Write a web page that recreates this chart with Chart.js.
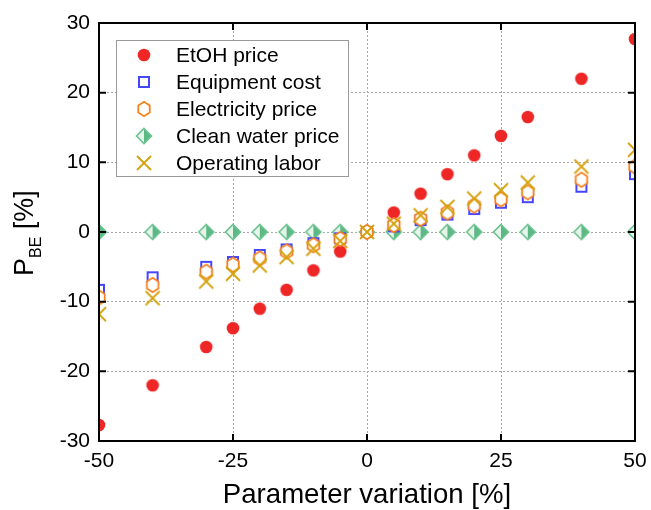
<!DOCTYPE html>
<html>
<head>
<meta charset="utf-8">
<title>Break-even price sensitivity</title>
<script src="https://cdn.jsdelivr.net/npm/chart.js@4.4.0/dist/chart.umd.min.js"></script>
<style>
    html, body { margin: 0; padding: 0; background: #fff; }
    #chart { display: block; }
</style>
</head>
<body>
<canvas id="chart" width="651" height="510"></canvas>
<script>
// parameter variation [%] and resulting change of the break-even price [%]
const variation = [-50, -40, -30, -25, -20, -15, -10, -5, 0, 5, 10, 15, 20, 25, 30, 40, 50];
const etohPrice = [-27.7, -22.0, -16.5, -13.8, -11.0, -8.3, -5.5, -2.8, 0, 2.8, 5.5, 8.3, 11.0, 13.8, 16.5, 22.0, 27.7];
const equipmentCost = [-8.3, -6.5, -5.0, -4.3, -3.3, -2.5, -1.6, -0.9, 0, 0.8, 1.7, 2.5, 3.3, 4.2, 5.0, 6.5, 8.3];
const electricityPrice = [-9.4, -7.6, -5.7, -4.7, -3.8, -2.8, -1.9, -1.0, 0, 1.0, 1.9, 2.8, 3.8, 4.7, 5.7, 7.5, 9.4];
const cleanWaterPrice = [0, 0, 0, 0, 0, 0, 0, 0, 0, 0, 0, 0, 0, 0, 0, 0, 0];
const operatingLabor = [-11.8, -9.5, -7.1, -6.0, -4.8, -3.6, -2.4, -1.3, 0, 1.2, 2.4, 3.6, 4.8, 6.0, 7.1, 9.4, 11.8];

const xTicks = [-50, -25, 0, 25, 50];
const yTicks = [-30, -20, -10, 0, 10, 20, 30];

const FONT = 'Liberation Sans, Arial, Helvetica, sans-serif';

// small offscreen canvases used as point styles (and reused in the legend)
function makeMarker(size, draw) {
    const c = document.createElement('canvas');
    c.width = size;
    c.height = size;
    draw(c.getContext('2d'), size / 2);
    return c;
}

const circleMarker = makeMarker(16, (g, c) => {
    g.fillStyle = '#ee2626';
    g.beginPath();
    g.arc(c, c, 6.3, 0, Math.PI * 2);
    g.fill();
});

const squareMarker = makeMarker(16, (g, c) => {
    g.strokeStyle = '#4646ff';
    g.lineWidth = 2;
    g.strokeRect(c - 5, c - 5, 10, 10);
});

const hexMarker = makeMarker(18, (g, c) => {
    g.strokeStyle = '#f7821e';
    g.fillStyle = '#ffffff';
    g.lineWidth = 1.8;
    g.beginPath();
    for (let i = 0; i < 6; i++) {
        const a = -Math.PI / 2 + i * Math.PI / 3;
        const px = c + 6.6 * Math.cos(a);
        const py = c + 7.2 * Math.sin(a);
        if (i === 0) g.moveTo(px, py); else g.lineTo(px, py);
    }
    g.closePath();
    g.fill();
    g.stroke();
});

const diamondMarker = makeMarker(20, (g, c) => {
    const r = 7.5;
    // left half pale, right half solid
    g.fillStyle = '#e6f4ea';
    g.beginPath();
    g.moveTo(c, c - r); g.lineTo(c - r, c); g.lineTo(c, c + r); g.closePath();
    g.fill();
    g.fillStyle = '#5cb885';
    g.beginPath();
    g.moveTo(c, c - r); g.lineTo(c + r, c); g.lineTo(c, c + r); g.closePath();
    g.fill();
    g.strokeStyle = '#6cc290';
    g.lineWidth = 1.6;
    g.beginPath();
    g.moveTo(c, c - r); g.lineTo(c + r, c); g.lineTo(c, c + r); g.lineTo(c - r, c); g.closePath();
    g.stroke();
});

const crossMarker = makeMarker(18, (g, c) => {
    const h = 7;
    g.strokeStyle = '#d4a20c';
    g.lineWidth = 1.8;
    g.beginPath();
    g.moveTo(c - h, c - h); g.lineTo(c + h, c + h);
    g.moveTo(c - h, c + h); g.lineTo(c + h, c - h);
    g.stroke();
});

const series = [
    { label: 'EtOH price', values: etohPrice, marker: circleMarker, order: 5 },
    { label: 'Equipment cost', values: equipmentCost, marker: squareMarker, order: 3 },
    { label: 'Electricity price', values: electricityPrice, marker: hexMarker, order: 2 },
    { label: 'Clean water price', values: cleanWaterPrice, marker: diamondMarker, order: 4 },
    { label: 'Operating labor', values: operatingLabor, marker: crossMarker, order: 1 }
];

// frame, inward tick marks, axis titles and the boxed legend
const decorations = {
    id: 'decorations',
    afterDatasetsDraw(chart) {
        const { ctx, chartArea: a, scales } = chart;
        const tick = 7;
        ctx.save();
        ctx.strokeStyle = '#000';
        ctx.lineWidth = 2;
        ctx.beginPath();
        xTicks.forEach(v => {
            const px = scales.x.getPixelForValue(v);
            ctx.moveTo(px, a.bottom); ctx.lineTo(px, a.bottom - tick);
            ctx.moveTo(px, a.top); ctx.lineTo(px, a.top + tick);
        });
        yTicks.forEach(v => {
            const py = scales.y.getPixelForValue(v);
            ctx.moveTo(a.left, py); ctx.lineTo(a.left + tick, py);
            ctx.moveTo(a.right, py); ctx.lineTo(a.right - tick, py);
        });
        ctx.stroke();
        ctx.strokeRect(a.left, a.top, a.right - a.left, a.bottom - a.top);

        // legend box
        const lx = 116.5, ly = 40.5, lw = 232, lh = 136;
        ctx.fillStyle = '#fff';
        ctx.fillRect(lx, ly, lw, lh);
        ctx.strokeStyle = '#9a9a9a';
        ctx.lineWidth = 1;
        ctx.strokeRect(lx, ly, lw, lh);
        ctx.fillStyle = '#000';
        ctx.font = '21px ' + FONT;
        ctx.textAlign = 'left';
        ctx.textBaseline = 'middle';
        series.forEach((s, i) => {
            const cy = 55 + i * 27;
            const m = s.marker;
            ctx.drawImage(m, 144 - m.width / 2, cy - m.height / 2);
            ctx.fillText(s.label, 176, cy + 1);
        });

        // x axis title
        ctx.font = '27.6px ' + FONT;
        ctx.textAlign = 'center';
        ctx.textBaseline = 'alphabetic';
        ctx.fillText('Parameter variation [%]', (a.left + a.right) / 2, 503);

        // y axis title with subscript
        ctx.translate(33, 276);
        ctx.rotate(-Math.PI / 2);
        ctx.textAlign = 'left';
        ctx.font = '27px ' + FONT;
        ctx.fillText('P', 0, 0);
        let w = ctx.measureText('P').width;
        ctx.font = '16px ' + FONT;
        ctx.fillText('BE', w, 8);
        w += ctx.measureText('BE').width;
        ctx.font = '27px ' + FONT;
        ctx.fillText(' [%]', w, 0);
        ctx.restore();
    }
};

new Chart(document.getElementById('chart'), {
    type: 'scatter',
    data: {
        datasets: series.map(s => ({
            label: s.label,
            data: variation.map((x, i) => ({ x: x, y: s.values[i] })),
            pointStyle: s.marker,
            pointRadius: 7,
            pointHoverRadius: 7,
            order: s.order,
            showLine: false
        }))
    },
    options: {
        responsive: false,
        animation: false,
        events: [],
        layout: { padding: 0 },
        plugins: {
            legend: { display: false },
            tooltip: { enabled: false }
        },
        scales: {
            x: {
                type: 'linear',
                min: -50,
                max: 50,
                // fixed plot box: 99..635 wide, 23..441 high
                afterFit: s => { s.height = 69; s.paddingLeft = 0; s.paddingRight = 16; },
                afterBuildTicks: s => { s.ticks = xTicks.map(v => ({ value: v })); },
                ticks: { color: '#000', font: { family: FONT, size: 21 }, padding: 8, maxRotation: 0 },
                grid: { color: '#a8a8a8', lineWidth: 1, drawTicks: false },
                border: { display: false, dash: [2, 2] }
            },
            y: {
                type: 'linear',
                min: -30,
                max: 30,
                afterFit: s => { s.width = 99; s.paddingTop = 23; s.paddingBottom = 0; },
                afterBuildTicks: s => { s.ticks = yTicks.map(v => ({ value: v })); },
                ticks: { color: '#000', font: { family: FONT, size: 21 }, padding: 9 },
                grid: { color: '#a8a8a8', lineWidth: 1, drawTicks: false },
                border: { display: false, dash: [2, 2] }
            }
        }
    },
    plugins: [decorations]
});
</script>
</body>
</html>
